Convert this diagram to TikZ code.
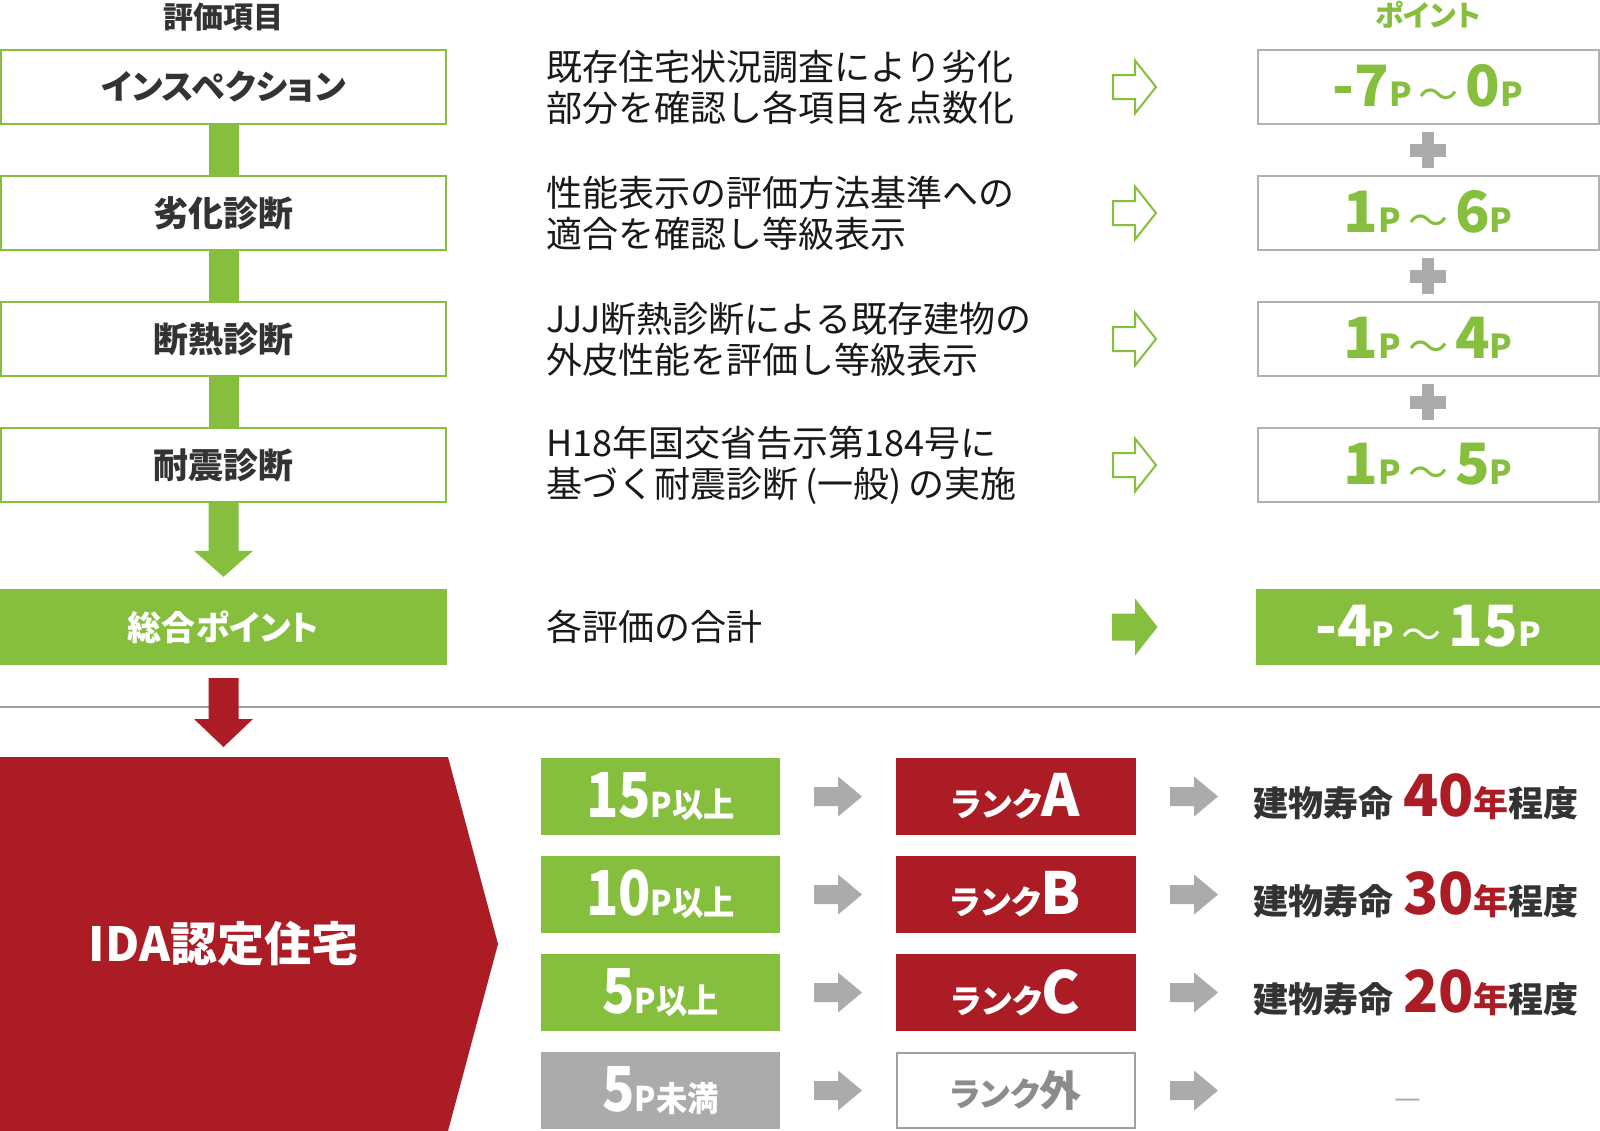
\documentclass[tikz,border=0pt]{standalone}
\usepackage{fontspec}
\setmainfont{Noto Sans CJK JP}
\newfontfamily\jpp{Noto Sans CJK JP}[RawFeature=+palt]
\usetikzlibrary{calc}
\definecolor{grn}{HTML}{86BF3E}
\definecolor{rd}{HTML}{AC1C24}
\definecolor{gr}{HTML}{ABABAB}
\definecolor{dk}{HTML}{333333}
\definecolor{bx}{HTML}{B2B2B2}
\definecolor{ln}{HTML}{A0A0A0}
\newcommand\fs[1]{\fontsize{#1}{#1}\selectfont}
\newcommand\pts[2]{{\fs{57}#1}{\fs{33}P}\hspace{7pt}\raisebox{-3pt}{\mdseries\fs{40}～}\hspace{7pt}{\fs{57}#2}{\fs{33}P}}
\newcommand\cnd[2]{\scalebox{0.86}[1]{\fs{62}#1}{\fs{34}\scalebox{0.92}[1]{P#2}}}
\newcommand\rnk[1]{{\jpp\fs{33}ランク}{\fs{58}#1}}
\newcommand\life[1]{建物寿命\hspace{10pt}{\color{rd}{\fs{58}#1}年}程度}
\begin{document}
\begin{tikzpicture}[x=1pt,y=-1pt,
  lbox/.style={draw=grn,line width=2pt,fill=white,minimum width=445pt,minimum height=74pt,inner sep=0pt,text=dk,font=\bfseries\fs{35}},
  pbox/.style={draw=bx,line width=2pt,fill=white,minimum width=341pt,minimum height=74pt,inner sep=0pt,text=grn,font=\bfseries},
  mtext/.style={anchor=west,align=left,inner sep=0pt,text=black!90,font=\fontsize{36}{41}\selectfont},
  cbox/.style={fill=grn,minimum width=239pt,minimum height=77pt,inner sep=0pt,text=white,font=\bfseries},
  rbox/.style={fill=rd,minimum width=240pt,minimum height=77pt,inner sep=0pt,text=white,font=\bfseries},
  ltext/.style={anchor=west,inner sep=0pt,text=dk,font=\bfseries\fs{35}},
  oarr/.pic={\draw[grn,line width=2pt,fill=white,line join=miter] (-21.5,-12) -- (0.5,-12) -- (0.5,-26.5) -- (21.5,0) -- (0.5,26.5) -- (0.5,12) -- (-21.5,12) -- cycle;},
  farr/.pic={\fill[grn] (-22.5,-13.5) -- (0.5,-13.5) -- (0.5,-28.5) -- (23,0) -- (0.5,28.5) -- (0.5,13.5) -- (-22.5,13.5) -- cycle;},
  garr/.pic={\fill[gr] (-24,-9.5) -- (0,-9.5) -- (0,-20) -- (24,0) -- (0,20) -- (0,9.5) -- (-24,9.5) -- cycle;}
]
\useasboundingbox (0,0) rectangle (1600,1130);
\fill[white] (0,0) rectangle (1600,1130);

% headers
\node[font=\bfseries\fs{30},text=dk] (h1) at (223.5,17) {評価項目};
\node[font=\jpp\bfseries\fs{29},text=grn] (h2) at (1428,15) {ポイント};

% separator
\draw[ln,line width=2pt] (0,707) -- (1600,707);

% left boxes
\node[lbox,font=\jpp\bfseries\fs{34}] (b1) at (223.5,87) {インスペクション};
\node[lbox] (b2) at (223.5,213) {劣化診断};
\node[lbox] (b3) at (223.5,339) {断熱診断};
\node[lbox] (b4) at (223.5,465) {耐震診断};
\node[fill=grn,minimum width=447pt,minimum height=76pt,inner sep=0pt,text=white,font=\jpp\bfseries\fs{34}] (tot) at (223.5,627) {総合ポイント};

\foreach \a/\b in {b1/b2,b2/b3,b3/b4}
  \fill[grn] ($(\a.south)+(-15,0)$) rectangle ($(\b.north)+(15,0)$);
\fill[grn] ($(b4.south)+(-15,0)$) -- ($(tot.north)+(-15,-38)$) -- ($(tot.north)+(-29.5,-38)$) -- ($(tot.north)+(0,-12)$) -- ($(tot.north)+(29.5,-38)$) -- ($(tot.north)+(15,-38)$) -- ($(b4.south)+(15,0)$) -- cycle;

% IDA block
\fill[rd] (0,757) -- (448,757) -- (498,944) -- (448,1131) -- (0,1131) -- cycle;
\coordinate (idatop) at (223.5,757);
\node[text=white,font=\bfseries\fs{47}] (ida) at (223.5,944) {IDA認定住宅};
\fill[rd] ($(tot.south)+(-15,13)$) -- ($(idatop)+(-15,-38)$) -- ($(idatop)+(-29.5,-38)$) -- ($(idatop)+(0,-10)$) -- ($(idatop)+(29.5,-38)$) -- ($(idatop)+(15,-38)$) -- ($(tot.south)+(15,13)$) -- cycle;

% middle texts
\node[mtext] (m1) at (546,87) {既存住宅状況調査により劣化\\部分を確認し各項目を点数化};
\node[mtext] (m2) at (546,213) {性能表示の評価方法基準への\\適合を確認し等級表示};
\node[mtext] (m3) at (546,339) {JJJ断熱診断による既存建物の\\外皮性能を評価し等級表示};
\node[mtext] (m4) at (546,465) {H18年国交省告示第184号に\\基づく耐震診断\hspace{7pt}(一般)\hspace{7pt}の実施};
\node[mtext] (m5) at (546,627) {各評価の合計};

% arrows
\foreach \y in {87,213,339,465} \pic at (1134.5,\y) {oarr};
\pic at (1134.5,627) {farr};

% point boxes
\node[pbox] (p1) at (1428,87) {\pts{-7}{0}};
\node[pbox] (p2) at (1428,213) {\pts{1}{6}};
\node[pbox] (p3) at (1428,339) {\pts{1}{4}};
\node[pbox] (p4) at (1428,465) {\pts{1}{5}};
\node[pbox,draw=none,fill=grn,text=white,minimum width=344pt,minimum height=76pt] (p5) at (1428,627) {\pts{-4}{15}};

\foreach \a/\b [count=\i] in {p1/p2,p2/p3,p3/p4}{
  \coordinate (pl\i) at ($(\a.south)!0.5!(\b.north)$);
  \fill[gr] ($(pl\i)+(-18,-6.5)$) rectangle ($(pl\i)+(18,6.5)$);
  \fill[gr] ($(pl\i)+(-6,-18)$) rectangle ($(pl\i)+(6,18)$);
}

% bottom rows
\node[cbox] (c1) at (660.5,796.5) {\cnd{15}{以上}};
\node[cbox] (c2) at (660.5,894.5) {\cnd{10}{以上}};
\node[cbox] (c3) at (660.5,992.5) {\cnd{5}{以上}};
\node[cbox,fill=gr] (c4) at (660.5,1090.5) {\cnd{5}{未満}};

\node[rbox] (r1) at (1016,796.5) {\rnk{A}};
\node[rbox] (r2) at (1016,894.5) {\rnk{B}};
\node[rbox] (r3) at (1016,992.5) {\rnk{C}};
\node[rbox,fill=white,draw=ln,line width=2pt,minimum width=238pt,minimum height=75pt,text=gray!90] (r4) at (1016,1090.5) {{\jpp\fs{33}ランク}{\fs{42}外}};

\foreach \y in {796.5,894.5,992.5,1090.5}{
  \pic at (838,\y) {garr};
  \pic at (1194,\y) {garr};
}

\node[ltext] (l1) at (1253,796.5) {\life{40}};
\node[ltext] (l2) at (1253,894.5) {\life{30}};
\node[ltext] (l3) at (1253,992.5) {\life{20}};
\node[text=gr,font=\fs{30},inner sep=0pt] (l4) at (1408,1104) {—};
\end{tikzpicture}
\end{document}
